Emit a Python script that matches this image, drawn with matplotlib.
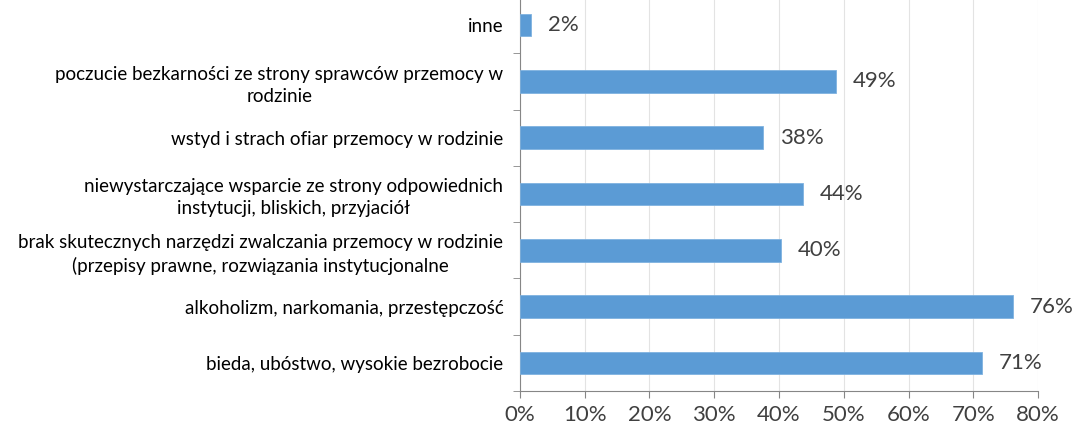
import numpy as np
import matplotlib.pyplot as plt

# Data (bottom to top)
categories = [
    'bieda, ubóstwo, wysokie bezrobocie',
    'alkoholizm, narkomania, przestępczość',
    'brak skutecznych narzędzi zwalczania przemocy w rodzinie\n(przepisy prawne, rozwiązania instytucjonalne',
    'niewystarczające wsparcie ze strony odpowiednich\ninstytucji, bliskich, przyjaciół',
    'wstyd i strach ofiar przemocy w rodzinie',
    'poczucie bezkarności ze strony sprawców przemocy w\nrodzinie',
    'inne',
]
values = [71.3, 76.1, 40.3, 43.7, 37.6, 48.8, 1.7]
value_labels = ['71%', '76%', '40%', '44%', '38%', '49%', '2%']
x_ticks = [0, 10, 20, 30, 40, 50, 60, 70, 80]

plt.rcParams['font.family'] = ['Lato', 'DejaVu Sans']

fig = plt.figure(figsize=(10.75, 4.34), dpi=100)
ax = fig.add_axes([0.4837, 0.0991, 0.9656 - 0.4837, 1.0069 - 0.0991])

y = np.arange(len(categories))
ax.barh(y, values, height=0.4, color='#5B9BD5', edgecolor='#7FB2E0', linewidth=0.6, zorder=3)

for yi, v, lab in zip(y, values, value_labels):
    ax.text(v + 2.6, yi, lab, va='center', ha='left', fontsize=16, color='#404040')

ax.set_xlim(0, 80)
ax.set_ylim(-0.5, 6.5)
ax.set_xticks(x_ticks)
ax.set_xticklabels([f'{t}%' for t in x_ticks], fontsize=16, color='#404040')
ax.xaxis.grid(True, color='#E3E3E3', linewidth=0.8, zorder=0)

ax.set_yticks(y)
ax.set_yticklabels(categories, fontsize=13.5, color='black', linespacing=1.35)
for lab in ax.get_yticklabels():
    lab.set_multialignment('center')
ax.set_yticks(np.arange(-0.5, 7, 1), minor=True)
ax.tick_params(axis='y', which='major', length=0, pad=12)
ax.tick_params(axis='y', which='minor', length=5, color='#868686', direction='out')
ax.tick_params(axis='x', length=5, color='#868686', direction='out', pad=5)

for s in ['top', 'right']:
    ax.spines[s].set_visible(False)
ax.spines['left'].set_color('#868686')
ax.spines['bottom'].set_color('#868686')

fig.savefig('out.png', dpi=100)
